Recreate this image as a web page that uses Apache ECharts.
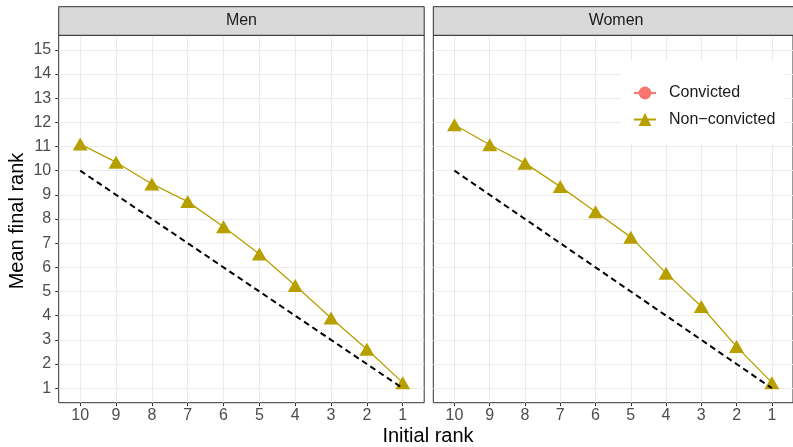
<!DOCTYPE html>
<html>
<head>
<meta charset="utf-8">
<script src="https://cdn.jsdelivr.net/npm/echarts@6/dist/echarts.min.js"></script>
<style>html,body{margin:0;padding:0;background:#fff}#c{width:793px;height:447px}</style>
</head>
<body>
<div id="c"></div>
<script>
const ranks = [10, 9, 8, 7, 6, 5, 4, 3, 2, 1];
const yTicks = [1, 2, 3, 4, 5, 6, 7, 8, 9, 10, 11, 12, 13, 14, 15];
const panels = ['Men', 'Women'];
const menNonConvicted = [11.1, 10.35, 9.45, 8.72, 7.68, 6.55, 5.25, 3.9, 2.61, 1.23];
const womenNonConvicted = [11.9, 11.07, 10.31, 9.34, 8.3, 7.25, 5.76, 4.38, 2.72, 1.23];
const menConvicted = [];
const womenConvicted = [];
const seriesNames = ['Convicted', 'Non\u2212convicted'];

const chart = echarts.init(document.getElementById('c'), null, {renderer: 'canvas'});
const grids = [
  {left: 58.7, top: 35.3, width: 365.5, height: 367.4},
  {left: 433.3, top: 35.3, width: 365.5, height: 367.4}
];
const FONT = 'Liberation Sans, Arial, sans-serif';
const gridColor = '#EBEBEB';
function xAxis(i) {
  return {
    type: 'value', gridIndex: i, inverse: true, min: 0.4, max: 10.6,
    axisLine: {show: false},
    axisTick: {show: true, length: 3.5, lineStyle: {color: '#333', width: 1}, customValues: ranks},
    axisLabel: {show: true, color: '#4D4D4D', fontSize: 16, fontFamily: FONT, margin: 5, customValues: ranks},
    splitLine: {show: false}
  };
}
function yAxis(i) {
  return {
    type: 'value', gridIndex: i, min: 0.4, max: 15.6,
    axisLine: {show: false},
    axisTick: {show: i === 0, length: 3.5, lineStyle: {color: '#333', width: 1}, customValues: yTicks},
    axisLabel: {show: i === 0, color: '#4D4D4D', fontSize: 16, fontFamily: FONT, margin: 7.5, customValues: yTicks},
    splitLine: {show: false}
  };
}
const olive = '#B79F00';
const salmon = '#F8766D';
function pts(vals) { return ranks.map((r, i) => [r, vals[i]]); }
const series = [];
[0, 1].forEach(i => {
  series.push({
    name: 'gridlines', type: 'line', xAxisIndex: i, yAxisIndex: i, data: [], silent: true,
    markLine: {
      silent: true, symbol: ['none', 'none'], z: 1, animation: false,
      label: {show: false},
      lineStyle: {color: gridColor, width: 1.1, type: 'solid'},
      emphasis: {disabled: true},
      data: ranks.map(r => ({xAxis: r})).concat(yTicks.map(v => ({yAxis: v})))
    }
  });
});
[menConvicted, womenConvicted].forEach((vals, i) => {
  series.push({
    name: seriesNames[0], type: 'line', xAxisIndex: i, yAxisIndex: i,
    data: vals.length ? pts(vals) : [], symbol: 'circle', symbolSize: 11,
    itemStyle: {color: salmon}, lineStyle: {color: salmon, width: 1.3}, z: 3
  });
});
[menNonConvicted, womenNonConvicted].forEach((vals, i) => {
  series.push({
    name: seriesNames[1], type: 'line', xAxisIndex: i, yAxisIndex: i,
    data: pts(vals), symbol: 'triangle', symbolSize: [15, 13],
    itemStyle: {color: olive}, lineStyle: {color: olive, width: 1.3}, z: 3
  });
});
[0, 1].forEach(i => {
  series.push({
    name: 'ref', type: 'line', xAxisIndex: i, yAxisIndex: i,
    data: ranks.map(r => [r, r]), symbol: 'none', silent: true,
    lineStyle: {color: '#000', width: 2, type: [6, 4]}, z: 4
  });
});

const graphics = [];
grids.forEach((g, i) => {
  graphics.push({
    type: 'rect', shape: {x: g.left, y: 6.7, width: g.width, height: 28.6},
    style: {fill: '#D9D9D9', stroke: '#333', lineWidth: 1}, z: 10
  });
  graphics.push({
    type: 'text', x: g.left + g.width / 2, y: 21,
    style: {text: panels[i], fill: '#1A1A1A', font: '16px "Liberation Sans", Arial', align: 'center', verticalAlign: 'middle'}, z: 11
  });
});
graphics.push({
  type: 'text', x: 428, y: 436.5,
  style: {text: 'Initial rank', fill: '#000', font: '20px "Liberation Sans", Arial', align: 'center', verticalAlign: 'middle'}
});
graphics.push({
  type: 'text', x: 17, y: 221, rotation: Math.PI / 2,
  style: {text: 'Mean final rank', fill: '#000', font: '20px "Liberation Sans", Arial', align: 'center', verticalAlign: 'middle'}
});

chart.setOption({
  animation: false,
  backgroundColor: '#fff',
  grid: grids.map(g => Object.assign({show: true, borderColor: '#333', borderWidth: 1, backgroundColor: 'transparent', containLabel: false}, g)),
  xAxis: [xAxis(0), xAxis(1)],
  yAxis: [yAxis(0), yAxis(1)],
  legend: {
    data: [seriesNames[0], seriesNames[1]],
    orient: 'vertical', left: 621, top: 60,
    backgroundColor: '#fff', padding: [25, 9, 16, 12],
    itemWidth: 22, itemHeight: 16, itemGap: 10.5,
    textStyle: {color: '#1A1A1A', fontSize: 16, fontFamily: FONT, padding: [0, 0, 0, 8]},
    selectedMode: false, z: 6
  },
  series: series,
  graphic: graphics
});
</script>
</body>
</html>
